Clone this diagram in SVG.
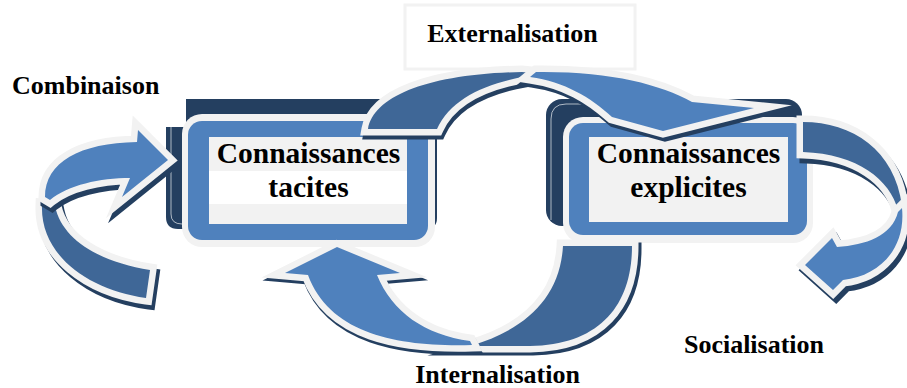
<svg xmlns="http://www.w3.org/2000/svg" width="907" height="388" viewBox="0 0 907 388">
  <style>
    .lbl { font-family: "Liberation Serif", "Times New Roman", serif; font-weight: bold; fill: #000; }
    .big { font-size: 29.5px; }
    .small { font-size: 26px; }
    .back { fill: #3f6797; stroke: #f2f2f2; stroke-width: 13; stroke-linejoin: miter; stroke-miterlimit: 10; paint-order: stroke; }
    .front { fill: #4f81bd; stroke: #f2f2f2; stroke-width: 13; stroke-linejoin: miter; stroke-miterlimit: 10; paint-order: stroke; }
    .shadow { fill: #243f60; stroke: #243f60; stroke-width: 13; stroke-linejoin: miter; stroke-miterlimit: 10; }
    .depth { fill: #243f60; }
    .glint { fill: none; stroke: #ffffff; stroke-width: 0.8; opacity: 0.8; }
    .rim { fill: #f2f2f2; }
    .face { fill: #4f81bd; }
    .panel { fill: #f2f2f2; }
  </style>

  <rect width="907" height="388" fill="#ffffff"/>

  <!-- label box above the top arch -->
  <g id="label-externalisation">
    <rect x="405" y="5" width="230" height="64" fill="#ffffff" stroke="#f2f2f2" stroke-width="3"/>
    <text class="lbl small" x="512.5" y="42" text-anchor="middle">Externalisation</text>
  </g>

  <!-- tacit knowledge box -->
  <g id="node-tacites">
    <path class="depth" d="M186,99 H425 Q437,99 437,111 V218 Q437,229 425,229 H178 Q166,229 166,217 V127 H186 Z"/>
    <path class="glint" d="M171,127 V214 Q171,224 182,224"/>
    <rect class="rim" x="182" y="114" width="253" height="133" rx="20"/>
    <rect class="face" x="188" y="121" width="240" height="119" rx="14"/>
    <rect class="panel" x="209" y="137" width="198" height="87"/>
    <rect x="209" y="171" width="198" height="33" fill="#ffffff"/>
    <text class="lbl big" x="308.5" y="163" text-anchor="middle">Connaissances</text>
    <text class="lbl big" x="308.5" y="197" text-anchor="middle">tacites</text>
  </g>

  <!-- explicit knowledge box -->
  <g id="node-explicites">
    <rect class="depth" x="546" y="99" width="256" height="127" rx="16"/>
    <path class="glint" d="M551,220 V119 Q551,104 566,104 H640"/>
    <rect class="rim" x="563" y="117" width="250" height="126" rx="20"/>
    <rect class="face" x="569" y="123" width="238" height="112" rx="14"/>
    <rect class="panel" x="589" y="137" width="199" height="85"/>
    <text class="lbl big" x="688.5" y="163" text-anchor="middle">Connaissances</text>
    <text class="lbl big" x="688.5" y="197" text-anchor="middle">explicites</text>
  </g>

  <!-- curved ribbon arrows -->
  <g id="connectors">
    <!-- tacites -> explicites (top arch) -->
    <g id="arrow-externalisation">
      <path class="shadow" transform="translate(2,4)" d="M368,129 C374,96 428,74 522,72 L542,74 C492,80 452,96 437,129 Z"/>
      <path class="back" d="M368,129 C374,96 428,74 522,72 L542,74 C492,80 452,96 437,129 Z"/>
      <path class="shadow" transform="translate(2,4)" d="M536,72 C608,71 660,84 692,102 L754,108 L663,131 L612,117 C590,97 565,82 530,77 Z"/>
      <path class="front" d="M536,72 C608,71 660,84 692,102 L754,108 L663,131 L612,117 C590,97 565,82 530,77 Z"/>
    </g>

    <!-- explicites -> tacites (bottom loop) -->
    <g id="arrow-internalisation">
      <path class="shadow" transform="translate(3,3)" d="M565,246 L632,246 C632,305 600,345 530,346 L470,346 C525,330 560,298 563,246 Z"/>
      <path class="back" d="M565,246 L632,246 C632,305 600,345 530,346 L470,346 C525,330 560,298 563,246 Z"/>
      <path class="shadow" transform="translate(1,3)" d="M472,345 C400,347 330,335 308,275 L285,273 L337,247 L400,273 L377,275 C392,312 425,335 470,341 Z"/>
      <path class="front" d="M472,345 C400,347 330,335 308,275 L285,273 L337,247 L400,273 L377,275 C392,312 425,335 470,341 Z"/>
    </g>

    <!-- loop into the tacit box -->
    <g id="arrow-combinaison">
      <path class="shadow" transform="translate(3,5)" d="M42,205 C40,255 88,290 146,298 L150,270 C100,262 62,240 55,206 Z"/>
      <path class="back" d="M42,205 C40,255 88,290 146,298 L150,270 C100,262 62,240 55,206 Z"/>
      <path class="shadow" transform="translate(2,5)" d="M45,197 C45,162 80,143 137,142 L138,130 L168,160 L122,197 L130,178 C100,178 68,185 50,200 Z"/>
      <path class="front" d="M45,197 C45,162 80,143 137,142 L138,130 L168,160 L122,197 L130,178 C100,178 68,185 50,200 Z"/>
    </g>

    <!-- loop back into the explicit box -->
    <g id="arrow-socialisation">
      <path class="shadow" transform="translate(3,5)" d="M803,122 C852,122 895,150 902,206 L898,210 C890,180 858,154 803,152 Z"/>
      <path class="back" d="M803,122 C852,122 895,150 902,206 L898,210 C890,180 858,154 803,152 Z"/>
      <path class="shadow" transform="translate(3,5)" d="M902,208 C906,248 880,276 843,280 L833,290 L805,265 L832,238 L837,247 C866,245 892,236 898,212 Z"/>
      <path class="front" d="M902,208 C906,248 880,276 843,280 L833,290 L805,265 L832,238 L837,247 C866,245 892,236 898,212 Z"/>
    </g>
  </g>

  <g id="label-combinaison">
    <text class="lbl small" x="12" y="94">Combinaison</text>
  </g>
  <g id="label-socialisation">
    <text class="lbl small" x="754" y="353" text-anchor="middle">Socialisation</text>
  </g>
  <g id="label-internalisation">
    <text class="lbl small" x="497.5" y="383" text-anchor="middle">Internalisation</text>
  </g>
</svg>
